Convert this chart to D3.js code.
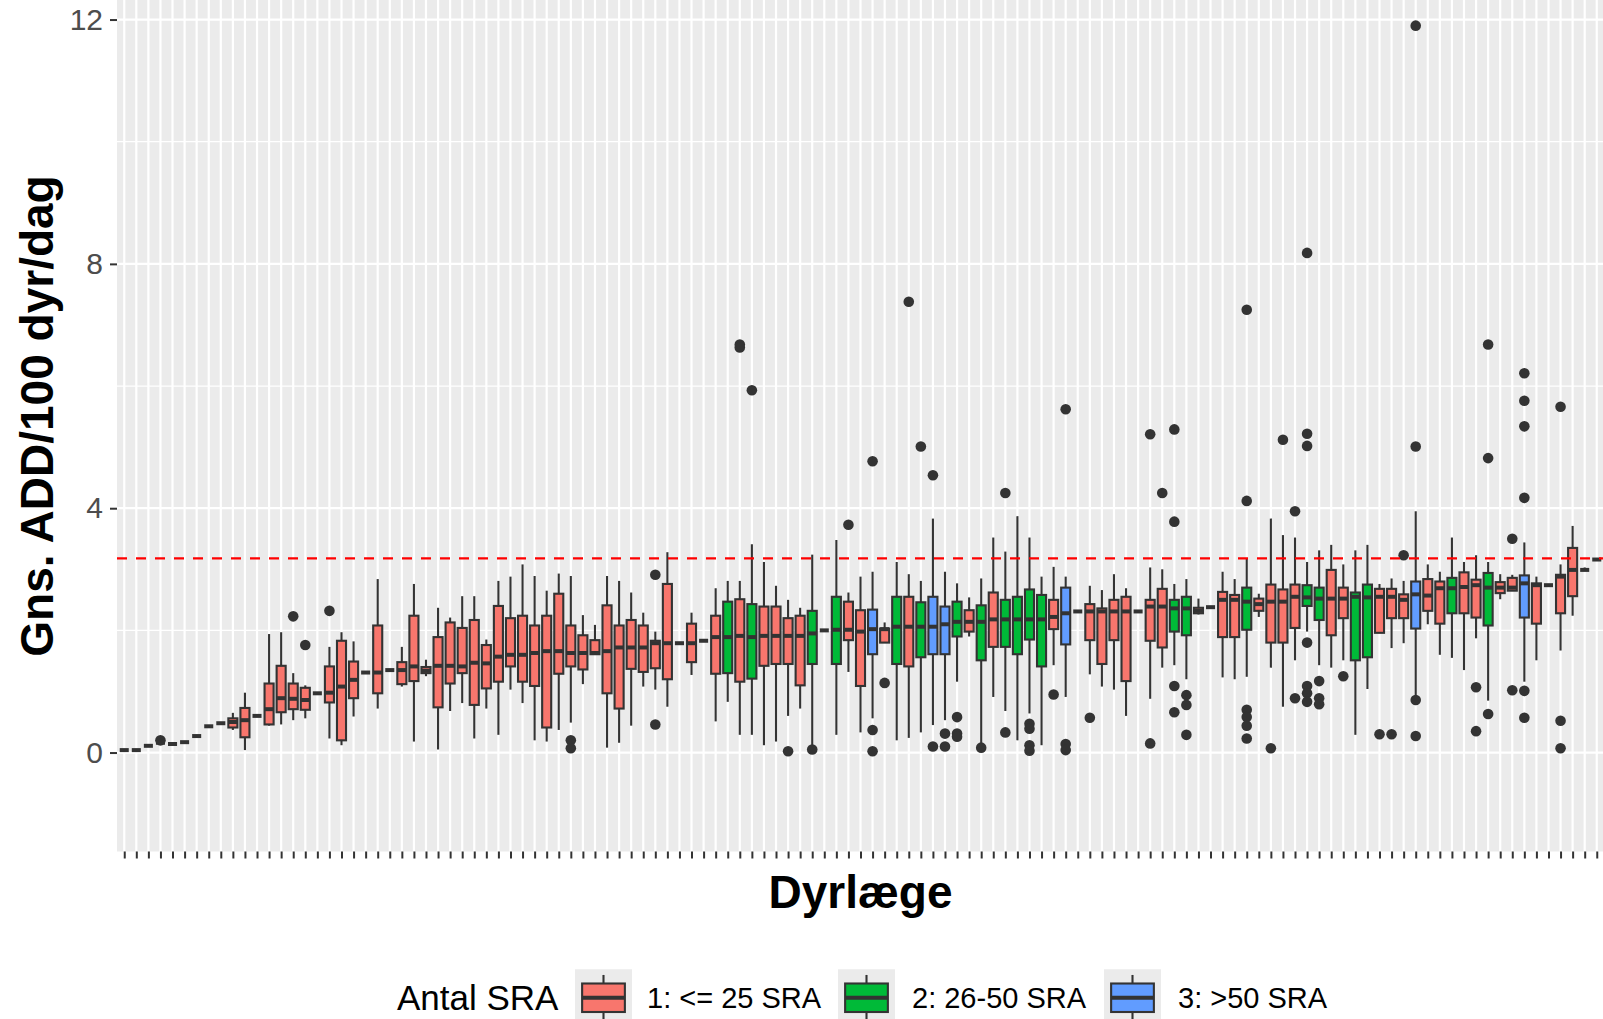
<!DOCTYPE html>
<html>
<head>
<meta charset="utf-8">
<script src="https://cdn.jsdelivr.net/npm/d3@7"></script>
<style>
  body { margin: 0; background: #ffffff; }
  text { font-family: "Liberation Sans", Arial, sans-serif; }
</style>
</head>
<body>
<svg id="chart" width="1603" height="1019"></svg>
<script>
// one entry per dyrlæge (vet), sorted by median
var sraGroup = [
  1,1,1,1,1,1,1,1,1,1, 1,1,1,1,1,1,1,1,1,1,
  1,1,1,1,1,1,1,1,1,1, 1,1,1,1,1,1,1,1,1,1,
  1,1,1,1,1,1,1,1,1,1, 2,1,2,1,1,1,1,2,1,2,
  1,1,3,1,2,1,2,3,3,2, 1,2,1,2,2,2,2,1,3,1,
  1,1,1,1,1,1,1,2,2,1, 1,1,1,2,1,1,1,1,2,2,
  1,1,2,2,1,1,1,3,1,1, 2,1,1,2,1,1,3,1,1,1,
  1,1,1
];
var whiskerLow = [
  0.04,0.04,0.11,0.16,0.14,0.17,0.27,0.43,0.48,0.37,
  0.04,0.60,0.44,0.46,0.53,0.56,0.97,0.23,0.12,0.59,
  1.31,0.72,1.35,1.08,0.18,1.25,0.05,0.68,0.81,0.23,
  0.72,0.29,1.03,0.81,0.20,0.18,0.37,0.49,1.12,1.60,
  0.08,0.16,0.44,1.08,1.03,0.75,1.79,1.27,1.83,0.51,
  0.83,0.29,0.29,0.12,0.18,0.60,0.72,0.12,2.00,0.29,
  1.32,0.33,0.56,1.80,0.20,0.24,0.33,0.45,0.53,1.16,
  1.90,0.15,0.91,0.68,0.20,0.64,0.12,1.43,0.91,2.31,
  1.28,1.08,1.03,0.60,2.31,0.88,1.39,1.43,1.20,2.26,
  2.38,1.23,1.20,1.24,2.22,1.39,0.75,1.51,1.98,1.43,
  1.39,1.51,0.29,1.04,1.96,1.71,1.79,0.91,2.10,1.60,
  1.55,1.35,1.87,0.85,2.51,2.65,1.16,1.51,2.74,1.67,
  2.24,2.99,3.16
];
var lowerQ = [
  0.04,0.04,0.11,0.16,0.14,0.17,0.27,0.43,0.48,0.41,
  0.25,0.60,0.46,0.66,0.71,0.70,0.97,0.82,0.20,0.89,
  1.31,0.97,1.35,1.12,1.17,1.30,0.74,1.13,1.30,0.78,
  1.05,1.16,1.41,1.16,1.09,0.41,1.29,1.41,1.36,1.61,
  0.97,0.72,1.37,1.32,1.38,1.20,1.79,1.48,1.83,1.29,
  1.30,1.16,1.21,1.42,1.45,1.45,1.10,1.45,2.00,1.45,
  1.84,1.09,1.61,1.80,1.45,1.41,1.56,1.61,1.61,1.90,
  1.98,1.51,1.73,1.73,1.61,1.85,1.41,2.02,1.77,2.31,
  1.84,1.45,1.84,1.17,2.31,1.83,1.72,1.98,1.92,2.28,
  2.38,1.89,1.89,2.01,2.32,1.80,1.80,2.04,2.40,2.17,
  1.92,2.20,1.51,1.56,1.96,2.20,2.20,2.03,2.32,2.11,
  2.28,2.28,2.21,2.08,2.61,2.65,2.21,2.11,2.74,2.28,
  2.56,2.99,3.16
];
var medianV = [
  0.04,0.04,0.11,0.16,0.14,0.17,0.27,0.43,0.48,0.50,
  0.53,0.60,0.71,0.89,0.88,0.86,0.97,0.98,1.08,1.19,
  1.31,1.31,1.35,1.35,1.41,1.34,1.42,1.42,1.41,1.47,
  1.46,1.57,1.60,1.60,1.63,1.66,1.66,1.63,1.63,1.63,
  1.66,1.72,1.72,1.72,1.79,1.79,1.79,1.79,1.83,1.89,
  1.89,1.91,1.89,1.91,1.91,1.91,1.91,1.95,2.00,2.01,
  2.01,1.98,2.02,2.02,2.06,2.06,2.06,2.06,2.10,2.14,
  2.14,2.14,2.18,2.18,2.18,2.18,2.18,2.22,2.28,2.31,
  2.31,2.31,2.31,2.31,2.31,2.39,2.39,2.36,2.36,2.32,
  2.38,2.50,2.50,2.47,2.43,2.47,2.47,2.55,2.54,2.52,
  2.52,2.52,2.55,2.54,2.55,2.55,2.50,2.59,2.57,2.69,
  2.69,2.71,2.74,2.70,2.70,2.70,2.77,2.74,2.74,2.88,
  2.99,2.99,3.16
];
var upperQ = [
  0.04,0.04,0.11,0.16,0.14,0.17,0.27,0.43,0.48,0.56,
  0.73,0.60,1.13,1.42,1.13,1.06,0.97,1.41,1.83,1.49,
  1.31,2.08,1.35,1.48,2.24,1.40,1.89,2.13,2.04,2.17,
  1.76,2.40,2.20,2.24,2.08,2.24,2.60,2.08,1.92,1.84,
  2.41,2.08,2.17,2.08,1.83,2.76,1.79,2.11,1.83,2.24,
  2.47,2.51,2.43,2.39,2.39,2.20,2.24,2.32,2.00,2.55,
  2.47,2.33,2.34,2.03,2.55,2.55,2.46,2.55,2.39,2.47,
  2.33,2.41,2.62,2.50,2.55,2.67,2.58,2.50,2.70,2.31,
  2.43,2.36,2.50,2.55,2.31,2.50,2.68,2.50,2.55,2.37,
  2.38,2.63,2.58,2.70,2.52,2.75,2.67,2.75,2.74,2.70,
  2.99,2.70,2.62,2.75,2.68,2.68,2.59,2.80,2.84,2.80,
  2.86,2.95,2.83,2.94,2.79,2.86,2.90,2.77,2.74,2.91,
  3.35,2.99,3.16
];
var whiskerHigh = [
  0.04,0.04,0.11,0.16,0.14,0.17,0.27,0.43,0.48,0.65,
  0.98,0.60,1.94,1.97,1.30,1.10,0.97,1.73,1.97,1.82,
  1.31,2.84,1.35,1.73,2.76,1.52,2.37,2.21,2.56,2.56,
  1.85,2.81,2.88,3.08,2.89,2.65,2.93,2.89,2.25,2.09,
  2.89,2.81,2.62,2.29,1.98,3.28,1.79,2.29,1.83,2.69,
  2.81,2.81,3.41,3.12,2.73,2.50,2.37,3.24,2.00,3.48,
  2.62,2.88,2.96,2.13,3.12,2.92,2.81,3.83,2.96,2.77,
  2.54,2.85,3.52,3.29,3.87,3.52,2.88,3.04,2.88,2.31,
  2.73,2.66,2.92,2.69,2.31,3.03,3.00,2.76,2.84,2.52,
  2.38,2.96,2.84,3.17,2.60,3.83,3.56,3.52,3.12,3.31,
  3.40,3.08,3.31,3.40,2.76,2.85,2.81,3.95,3.08,2.96,
  3.52,3.12,3.23,3.12,2.92,2.91,3.44,2.88,2.74,3.08,
  3.71,3.03,3.16
];
// outliers: vet index and value
var outlierVet = [
  3, 14, 15, 17, 37, 37, 44, 44, 51, 51, 52, 55, 57, 60,
  62, 62, 62, 63, 65, 66, 67, 67, 68, 68, 69, 69, 69, 71,
  73, 73, 75, 75, 75, 75, 77, 78, 78, 78, 80, 85, 85, 86,
  87, 87, 87, 87, 88, 88, 88, 93, 93, 93, 93, 93, 93, 95,
  96, 97, 97, 98, 98, 98, 98, 98, 98, 98, 99, 99, 99, 101,
  104, 105, 106, 107, 107, 107, 107, 112, 112, 113, 113, 113,
  115, 115, 116, 116, 116, 116, 116, 116, 119, 119, 119
];
var outlierValue = [
  0.20, 2.23, 1.76, 2.32, 0.20, 0.07, 2.91, 0.46, 6.68, 6.63, 5.93, 0.02, 0.05, 3.73,
  4.77, 0.37, 0.02, 1.14, 7.38, 5.01, 4.54, 0.10, 0.31, 0.10, 0.58, 0.31, 0.26, 0.08,
  4.25, 0.33, 0.47, 0.39, 0.12, 0.03, 0.95, 5.62, 0.14, 0.04, 0.57, 5.21, 0.15, 4.25,
  5.29, 3.78, 1.09, 0.66, 0.94, 0.78, 0.29, 7.25, 4.12, 0.70, 0.58, 0.44, 0.23, 0.07,
  5.12, 3.95, 0.89, 8.18, 5.22, 5.02, 1.80, 1.09, 0.97, 0.83, 1.17, 0.89, 0.79, 1.25,
  0.30, 0.30, 3.23, 11.90, 5.01, 0.86, 0.27, 1.07, 0.35, 6.68, 4.82, 0.63,
  3.50, 1.02, 6.21, 5.76, 5.34, 4.17, 1.01, 0.57, 5.66, 0.52, 0.07
];
var refLine = 3.18;
var yTicks = [0, 4, 8, 12];
var yMinor = [2, 6, 10];
var groupLabels = ["1: <= 25 SRA", "2: 26-50 SRA", "3: >50 SRA"];
var groupColors = ["#F8766D", "#00BA38", "#619CFF"];

var svg = d3.select("#chart");
var panel = { left: 117, right: 1604, top: 0, bottom: 851.5 };

var x = d3
  .scalePoint()
  .domain(d3.range(medianV.length))
  .range([panel.left, panel.right])
  .padding(0.6);
var y = d3
  .scaleLinear()
  .domain([-1.62, 12.32])
  .range([panel.bottom, panel.top]);
var color = d3.scaleOrdinal().domain([1, 2, 3]).range(groupColors);
var boxW = x.step() * 0.75;
var lineW = "2.1px", medW = "4px";

// panel background + grid
svg
  .append("rect")
  .attr("x", panel.left)
  .attr("y", panel.top)
  .attr("width", panel.right - panel.left)
  .attr("height", panel.bottom - panel.top)
  .style("fill", "#EBEBEB");

var gridG = svg.append("g");
gridG
  .selectAll(".minor")
  .data(yMinor)
  .enter()
  .append("line")
  .attr("x1", panel.left)
  .attr("x2", panel.right)
  .attr("y1", function(d) { return y(d); })
  .attr("y2", function(d) { return y(d); })
  .style("stroke", "#ffffff")
  .style("stroke-width", "1.2px");
gridG
  .selectAll(".major")
  .data(yTicks)
  .enter()
  .append("line")
  .attr("x1", panel.left)
  .attr("x2", panel.right)
  .attr("y1", function(d) { return y(d); })
  .attr("y2", function(d) { return y(d); })
  .style("stroke", "#ffffff")
  .style("stroke-width", "2.2px");
gridG
  .selectAll(".vert")
  .data(x.domain())
  .enter()
  .append("line")
  .attr("x1", function(d) { return x(d); })
  .attr("x2", function(d) { return x(d); })
  .attr("y1", panel.top)
  .attr("y2", panel.bottom)
  .style("stroke", "#ffffff")
  .style("stroke-width", "2.2px");

// boxes
var boxG = svg.append("g");
for (var i = 0; i < medianV.length; i++) {
  var cx = x(i);
  var g = boxG.append("g");
  var pts = [];
  for (var k = 0; k < outlierVet.length; k++) {
    if (outlierVet[k] === i) pts.push(outlierValue[k]);
  }
  g.selectAll("circle")
    .data(pts)
    .enter()
    .append("circle")
    .attr("cx", cx)
    .attr("cy", function(d) { return y(d); })
    .attr("r", 5.3)
    .style("fill", "#333333");
  g.append("line")
    .attr("x1", cx)
    .attr("x2", cx)
    .attr("y1", y(whiskerLow[i]))
    .attr("y2", y(whiskerHigh[i]))
    .style("stroke", "#333333")
    .style("stroke-width", lineW);
  g.append("rect")
    .attr("x", cx - boxW / 2)
    .attr("y", y(upperQ[i]))
    .attr("width", boxW)
    .attr("height", y(lowerQ[i]) - y(upperQ[i]))
    .style("fill", color(sraGroup[i]))
    .style("stroke", "#333333")
    .style("stroke-width", lineW);
  g.append("line")
    .attr("x1", cx - boxW / 2)
    .attr("x2", cx + boxW / 2)
    .attr("y1", y(medianV[i]))
    .attr("y2", y(medianV[i]))
    .style("stroke", "#333333")
    .style("stroke-width", medW);
}

// reference line
svg
  .append("line")
  .attr("x1", panel.left)
  .attr("x2", panel.right)
  .attr("y1", y(refLine))
  .attr("y2", y(refLine))
  .style("stroke", "#FF0000")
  .style("stroke-width", "2.2px")
  .style("stroke-dasharray", "10,9");

// axes
var yAxisG = svg
  .append("g")
  .attr("transform", "translate(" + panel.left + ",0)")
  .call(d3.axisLeft(y).tickValues(yTicks).tickSize(7).tickPadding(7));
yAxisG.select(".domain").remove();
yAxisG.selectAll("line").style("stroke", "#333333").style("stroke-width", "2px");
yAxisG
  .selectAll("text")
  .style("font-size", "30px")
  .style("fill", "#4D4D4D")
  .style("font-family", "Liberation Sans, Arial, sans-serif");

var xAxisG = svg
  .append("g")
  .attr("transform", "translate(0," + panel.bottom + ")")
  .call(d3.axisBottom(x).tickSize(7).tickFormat(""));
xAxisG.select(".domain").remove();
xAxisG.selectAll("line").style("stroke", "#333333").style("stroke-width", "2px");

svg
  .append("text")
  .attr("x", (panel.left + panel.right) / 2)
  .attr("y", 908)
  .style("text-anchor", "middle")
  .style("font-size", "46px")
  .style("font-weight", "bold")
  .text("Dyrlæge");

svg
  .append("text")
  .attr("transform", "translate(53," + 416 + ") rotate(-90)")
  .style("text-anchor", "middle")
  .style("font-size", "46px")
  .style("font-weight", "bold")
  .text("Gns. ADD/100 dyr/dag");

// legend
var legG = svg.append("g");
var keyTop = 969.25, keySize = 57;
var keyLeft = [575, 838, 1104];
var labelLeft = [647, 912, 1178];
legG
  .append("text")
  .attr("x", 397)
  .attr("y", 1010)
  .style("font-size", "35px")
  .text("Antal SRA");
for (var j = 0; j < groupLabels.length; j++) {
  var kx = keyLeft[j];
  var kmid = kx + keySize / 2;
  legG
    .append("rect")
    .attr("x", kx)
    .attr("y", keyTop)
    .attr("width", keySize)
    .attr("height", keySize)
    .style("fill", "#EBEBEB");
  legG
    .append("line")
    .attr("x1", kmid)
    .attr("x2", kmid)
    .attr("y1", keyTop + keySize * 0.1)
    .attr("y2", keyTop + keySize * 0.9)
    .style("stroke", "#333333")
    .style("stroke-width", lineW);
  legG
    .append("rect")
    .attr("x", kx + keySize * 0.125)
    .attr("y", keyTop + keySize * 0.25)
    .attr("width", keySize * 0.75)
    .attr("height", keySize * 0.5)
    .style("fill", groupColors[j])
    .style("stroke", "#333333")
    .style("stroke-width", lineW);
  legG
    .append("line")
    .attr("x1", kx + keySize * 0.125)
    .attr("x2", kx + keySize * 0.875)
    .attr("y1", keyTop + keySize * 0.5)
    .attr("y2", keyTop + keySize * 0.5)
    .style("stroke", "#333333")
    .style("stroke-width", medW);
  legG
    .append("text")
    .attr("x", labelLeft[j])
    .attr("y", 1008)
    .style("font-size", "29px")
    .text(groupLabels[j]);
}
</script>
</body>
</html>
